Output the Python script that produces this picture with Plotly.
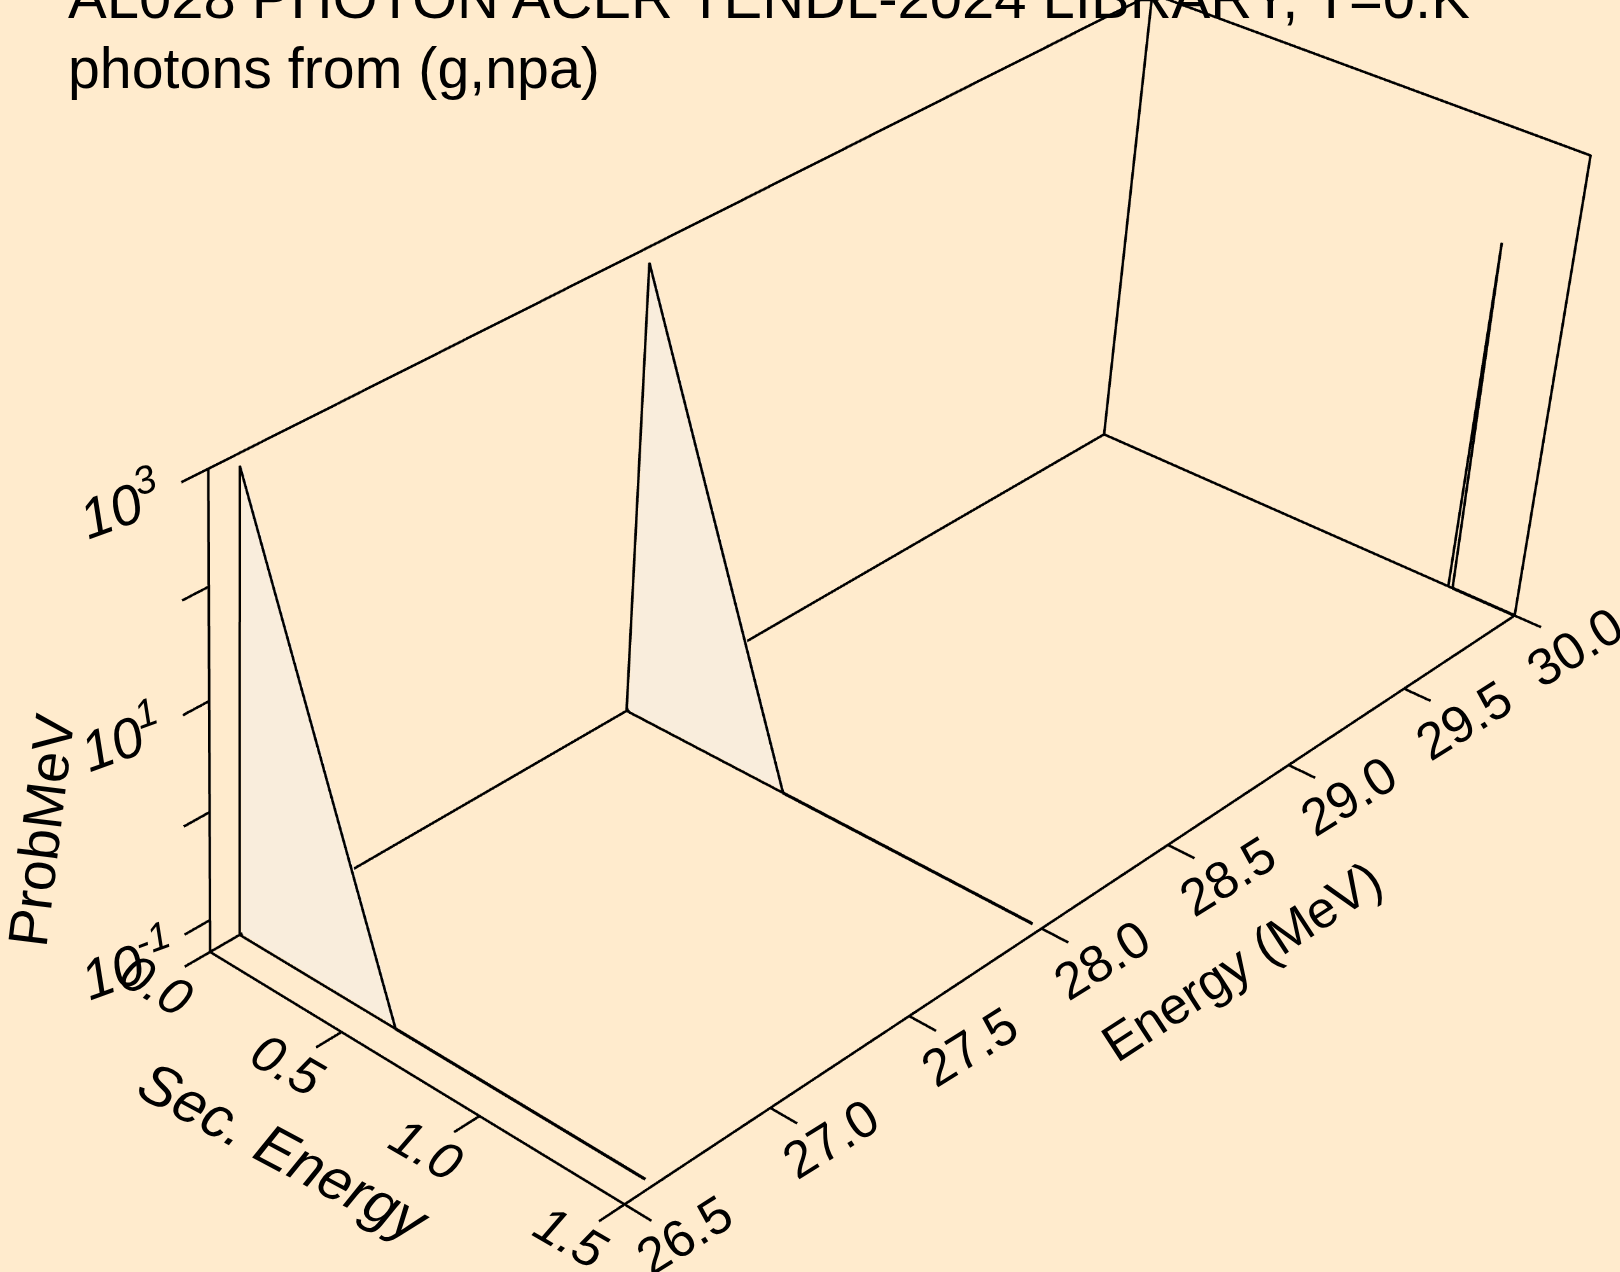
import numpy as np
import plotly.graph_objects as go

BG = '#FFEBCD'
FILL = '#F9EDDC'

# ---- chart data
sec_ticks = [0.0, 0.5, 1.0, 1.5]
en_ticks = [26.5, 27.0, 27.5, 28.0, 28.5, 29.0, 29.5, 30.0]
z_ticks = [0.1, 1, 10, 100, 1000]
z_labels = {-1: '10<sup>-1</sup>', 1: '10<sup>1</sup>', 3: '10<sup>3</sup>'}
floor = 0.05
slice_energy = [26.6, 28.0, 30.0]
slice_sec = [[0.59, 0, 0, 0.59, 1.47], [0.59, 0, 0, 0.59, 1.47], [0, 1.27, 1.27, 1.285, 1.5]]
slice_prob = [[floor, floor, 780, floor, floor], [floor, floor, 720, floor, floor], [floor, floor, 95, floor, floor]]
title_lines = ['AL028 PHOTON ACER TENDL-2024 LIBRARY, T=0.K', 'photons from (g,npa)']

# ---- axes and view
sec_range = [-0.02, 1.6]
en_range = [26.4, 30.02]
lz_range = [-1.32, 3.02]
eye = dict(x=4.3201, y=-5.8627, z=4.4668)
center = dict(x=-0.918, y=-1.2869, z=0.0224)
up = dict(x=0.01822, y=0.02014, z=0.99926)
aspect = dict(x=1.0, y=2.5231, z=0.9538)
# The scene canvas is larger than the window so its lens is long enough;
# it is placed so the optical centre falls at (px, py) in the window.
S = 1620 / 1568
W, H = 3283, 4090
px, py = -11.8, 626.7
left, top = px - W / 2, py - H / 2


def px2paper(x, y):
    return (x - left) / W, 1 - (y - top) / H


fig = go.Figure()


def line(x, y, z, w=4):
    fig.add_trace(go.Scatter3d(x=x, y=y, z=z, mode='lines', line=dict(color='black', width=w),
                               hoverinfo='skip', showlegend=False))


xa, xb = sec_ticks[0], sec_ticks[-1]
ya, yb = en_ticks[0], en_ticks[-1]
za, zb = floor, z_ticks[-1]
lza = float(np.log10(za))
line([xa, xa, xa, xb, xb], [ya, ya, yb, yb, yb], [za, zb, zb, zb, za])
line([xa, xb, xb, xa, xa, xa], [ya, ya, yb, yb, ya, ya], [za] * 6)
line([xa, xa], [yb, yb], [za, zb])
for s in sec_ticks:
    line([s, s], [ya, 26.415], [za, za])
for t in en_ticks:
    line([xb, 1.59], [t, t], [za, za])
for z in z_ticks:
    line([xa, xa], [ya, 26.415], [z, z])
for en, sx, pz in zip(slice_energy, slice_sec, slice_prob):
    line(sx, [en] * len(sx), pz)
    line(sx[-2:], [en] * 2, pz[-2:], 5)
    if sx[0] == 0.59:
        fig.add_trace(go.Mesh3d(x=sx[1:4], y=[en + 0.008] * 3, z=pz[1:4], i=[0], j=[1], k=[2], color=FILL,
                                flatshading=True, lighting=dict(ambient=1, diffuse=0, specular=0, fresnel=0),
                                hoverinfo='skip', showlegend=False))

sa = []


def lab(x, y, lz, t, dx, dy, ang, size):
    sa.append(dict(x=x, y=y, z=lz, text=t, showarrow=False, xanchor='center', yanchor='middle',
                   xshift=dx * S, yshift=-dy * S, textangle=ang,
                   font=dict(family='Liberation Sans', size=size, color='black')))


for s in sec_ticks:
    lab(s, ya, lza, f'<i>{s:.1f}</i>', -52, 32, 30, 52)
for t in en_ticks:
    lab(xb, t, lza, f'{t:.1f}', 58, 30, -32, 52)
for z, t in z_labels.items():
    lab(xa, ya, z, f'<i>{t}</i>', -85 if z > 0 else -80, 34 if z > 0 else 41, -20, 56)
lab(0.75, ya, lza, '<i>Sec. Energy</i>', -121, 75, 28, 58)
lab(xb, 28.25, lza, 'Energy (MeV)', 132, 72, -33, 52)
lab(xa, ya, 1, 'ProbMeV', -163, 125, -83, 56)

ann = []
for txt, yp, sz in zip(title_lines, (-3, 68), (58, 57.3)):
    X, Y = px2paper(66, yp)
    ann.append(dict(text=txt, xref='paper', yref='paper', x=X, y=Y, showarrow=False, xanchor='left',
                    yanchor='middle', font=dict(family='Liberation Sans', size=sz, color='black')))

ax0 = dict(showgrid=False, zeroline=False, showline=False, showticklabels=False, ticks='',
           showbackground=False, title=dict(text=''), showspikes=False)
fig.update_layout(width=W, height=H, paper_bgcolor=BG, margin=dict(l=0, r=0, t=0, b=0, pad=0), showlegend=False,
                  annotations=ann,
                  scene=dict(domain=dict(x=[0, 1], y=[0, 1]), dragmode='orbit', aspectmode='manual', aspectratio=aspect,
                             camera=dict(eye=eye, center=center, up=up), annotations=sa,
                             xaxis=dict(range=sec_range, **ax0), yaxis=dict(range=en_range, **ax0),
                             zaxis=dict(type='log', range=lz_range, **ax0)))
post = f"""var gd=document.getElementById('{{plot_id}}');
document.documentElement.style.overflow='hidden';document.body.style.overflow='hidden';document.body.style.margin='0';document.body.style.background='{BG}';
gd.style.position='fixed';gd.style.left='{left:.1f}px';gd.style.top='{top:.1f}px';"""
fig.write_html("out.html", post_script=post)
